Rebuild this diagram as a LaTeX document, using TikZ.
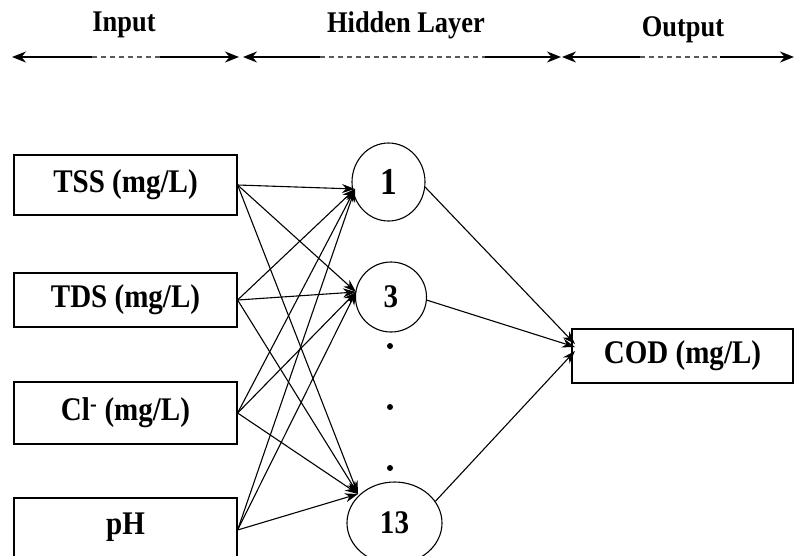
\documentclass[tikz,border=0pt]{standalone}
\usepackage{fontspec}
\setmainfont[FakeStretch=0.88]{Liberation Serif}
\usetikzlibrary{arrows.meta,shapes.geometric}
\begin{document}
\begin{tikzpicture}[x=1pt,y=-1pt,
  inbox/.style={draw, line width=1.2pt, minimum width=223pt, inner sep=0pt,
    font=\fontsize{33}{35}\selectfont\bfseries},
  hid/.style={draw, ellipse, line width=1.1pt, inner sep=0pt,
    font=\fontsize{33}{35}\selectfont\bfseries},
  head/.style={font=\fontsize{30}{32}\selectfont\bfseries, inner sep=0pt},
  conn/.style={line width=1.1pt, -{Stealth[length=13pt,width=9pt]}},
  topar/.style={line width=1.7pt},
  toptip/.style={-{Stealth[length=14pt,width=11pt]}},
  topdash/.style={line width=1.4pt, dash pattern=on 5pt off 4pt, black!65},
  dotc/.style={circle, fill, inner sep=0pt, minimum size=6pt}
]
\useasboundingbox (0,0) rectangle (794,555);

% headers
\node[head] (hin)  at (124,25) {Input};
\node[head] (hhid) at (406,25) {Hidden Layer};
\node[head] (hout) at (683,30) {Output};

% top double arrows
\coordinate (a1) at (12,57);   \coordinate (a1m) at (92,57);  \coordinate (a1n) at (160,57); \coordinate (a2) at (239,57);
\coordinate (b1) at (243,57);  \coordinate (b1m) at (320,57); \coordinate (b1n) at (485,57); \coordinate (b2) at (561,57);
\coordinate (c1) at (562,57);  \coordinate (c1m) at (640,57); \coordinate (c1n) at (720,57); \coordinate (c2) at (794,57);
\draw[topar, toptip] (a1m) -- (a1);
\draw[topdash] (a1m) -- (a1n);
\draw[topar, toptip] (a1n) -- (a2);
\draw[topar, toptip] (b1m) -- (b1);
\draw[topdash] (b1m) -- (b1n);
\draw[topar, toptip] (b1n) -- (b2);
\draw[topar, toptip] (c1m) -- (c1);
\draw[topdash] (c1m) -- (c1n);
\draw[topar, toptip] (c1n) -- (c2);

% input boxes
\node[inbox, minimum height=60pt] (tss) at (125.5,185) {TSS (mg/L)};
\node[inbox, minimum height=54pt] (tds) at (125.5,300) {TDS (mg/L)};
\node[inbox, minimum height=62pt] (cl)  at (125.5,413) {Cl\textsuperscript{-} (mg/L)};
\node[inbox, minimum height=64pt, text height=21pt, text depth=12pt] (ph) at (125.5,530) {pH};

% hidden nodes
\node[hid, minimum width=73pt, minimum height=78pt, font=\fontsize{38}{40}\selectfont\bfseries] (h1) at (388.5,182) {1};
\node[hid, minimum width=71pt, minimum height=70pt] (h3) at (391,297) {3};
\node[hid, minimum width=95pt, minimum height=82pt] (h13) at (394.5,523) {13};

\node[dotc] (d1) at (390,346) {};
\node[dotc] (d2) at (390,407) {};
\node[dotc] (d3) at (390,468) {};

% output
\node[inbox, minimum width=221pt, minimum height=54pt] (cod) at (682.5,356) {COD (mg/L)};

% arrow targets
\coordinate (t1) at (355,189);
\coordinate (t3) at (356,292);
\coordinate (t13) at (358,494);
\coordinate (o1) at (575,344);
\coordinate (o2) at (575,347);
\coordinate (o3) at (575,351);

\foreach \s in {tss,tds,cl,ph}{
  \draw[conn] (\s.east) -- (t1);
  \draw[conn] (\s.east) -- (t3);
  \draw[conn] (\s.east) -- (t13);
}
\draw[conn] (h1.-8) -- (o1);
\draw[conn] (h3.-5) -- (o2);
\draw[conn] (h13.28) -- (o3);
\end{tikzpicture}
\end{document}
